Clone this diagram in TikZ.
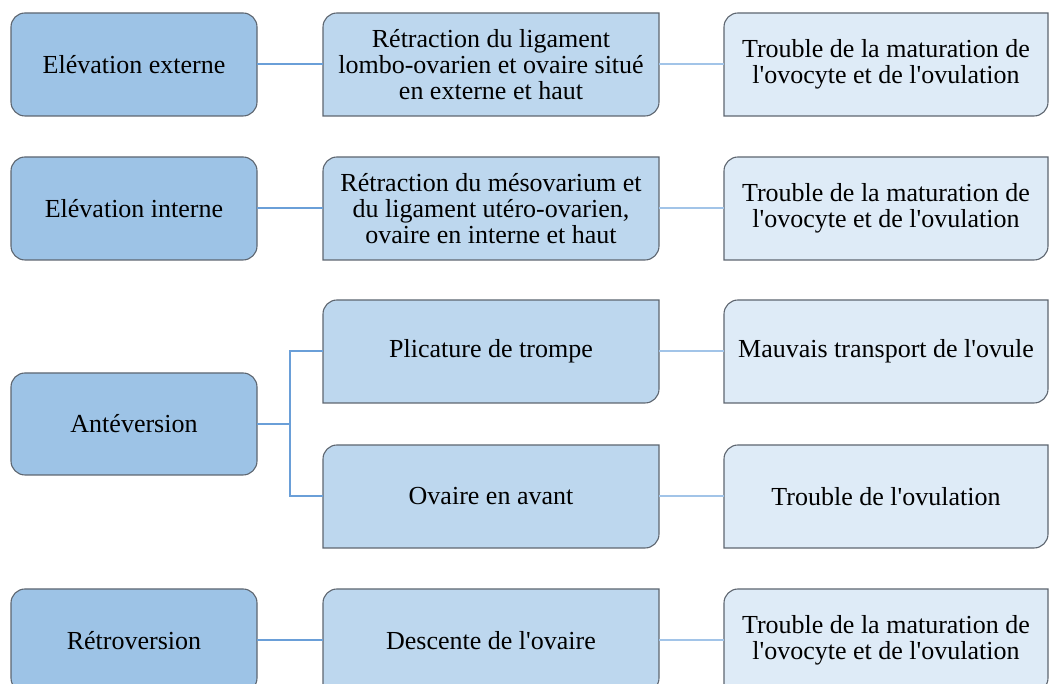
\documentclass[tikz,border=0pt]{standalone}
\usepackage{fontspec}
\setmainfont{Liberation Serif}[Ligatures=TeXOff]
\definecolor{cleft}{HTML}{9DC3E6}
\definecolor{cmid}{HTML}{BDD7EE}
\definecolor{cright}{HTML}{DEEBF7}
\definecolor{bordc}{HTML}{5E6670}
\definecolor{lineA}{HTML}{6A9FD8}
\definecolor{lineB}{HTML}{A2C4E8}
\tikzset{
  txt/.style={inner sep=0pt, align=center, font=\fontsize{13}{13.2}\selectfont, text=black},
  boxline/.style={draw=bordc, line width=0.55pt},
  conA/.style={draw=lineA, line width=1pt},
  conB/.style={draw=lineB, line width=1pt},
}
% full rounded box: name, x1, ytop, x2, ybot, fill, text
\newcommand\rbox[7]{%
  \filldraw[boxline, fill=#6, rounded corners=7pt] (#2,#5) rectangle (#4,#3);
  \node[txt, minimum width={(#4-#2)*0.5pt}, minimum height={(#3-#5)*0.5pt}] (#1) at ({(#2+#4)/2},{(#3+#5)/2}) {#7};
}
% diagonal rounded box (top-left and bottom-right rounded)
\newcommand\dbox[7]{%
  \filldraw[boxline, fill=#6] (#2,#5) -- (#2,#3-14) arc[start angle=180,end angle=90,radius=14] -- (#4,#3) -- (#4,#5+14) arc[start angle=0,end angle=-90,radius=14] -- cycle;
  \node[txt, minimum width={(#4-#2)*0.5pt}, minimum height={(#3-#5)*0.5pt}] (#1) at ({(#2+#4)/2},{(#3+#5)/2}) {#7};
}
\begin{document}
\begin{tikzpicture}[x=0.5pt,y=0.5pt]
\useasboundingbox (0,0) rectangle (1049,684);
% row 1
\rbox{l1}{11}{671}{257}{568}{cleft}{Elévation externe}
\dbox{m1}{323}{671}{659}{568}{cmid}{Rétraction du ligament\\lombo-ovarien et ovaire situé\\en externe et haut}
\dbox{r1}{724}{671}{1048}{568}{cright}{Trouble de la maturation de\\l'ovocyte et de l'ovulation}
% row 2
\rbox{l2}{11}{527}{257}{424}{cleft}{Elévation interne}
\dbox{m2}{323}{527}{659}{424}{cmid}{Rétraction du mésovarium et\\du ligament utéro-ovarien,\\ovaire en interne et haut}
\dbox{r2}{724}{527}{1048}{424}{cright}{Trouble de la maturation de\\l'ovocyte et de l'ovulation}
% row 3
\rbox{l3}{11}{311}{257}{209}{cleft}{Antéversion}
\dbox{m3a}{323}{384}{659}{281}{cmid}{Plicature de trompe}
\dbox{r3a}{724}{384}{1048}{281}{cright}{Mauvais transport de l'ovule}
\dbox{m3b}{323}{239}{659}{136}{cmid}{Ovaire en avant}
\dbox{r3b}{724}{239}{1048}{136}{cright}{Trouble de l'ovulation}
% row 4
\rbox{l4}{11}{95}{257}{-8}{cleft}{Rétroversion}
\dbox{m4}{323}{95}{659}{-8}{cmid}{Descente de l'ovaire}
\dbox{r4}{724}{95}{1048}{-8}{cright}{Trouble de la maturation de\\l'ovocyte et de l'ovulation}
% connectors
\draw[conA] (l1.east) -- (m1.west);
\draw[conB] (m1.east) -- (r1.west);
\draw[conA] (l2.east) -- (m2.west);
\draw[conB] (m2.east) -- (r2.west);
\coordinate (br) at (290,260);
\draw[conA] (l3.east) -- (br |- l3.east) |- (m3a.west);
\draw[conA] (br |- l3.east) |- (m3b.west);
\draw[conB] (m3a.east) -- (r3a.west);
\draw[conB] (m3b.east) -- (r3b.west);
\draw[conA] (l4.east) -- (m4.west);
\draw[conB] (m4.east) -- (r4.west);
\end{tikzpicture}
\end{document}
